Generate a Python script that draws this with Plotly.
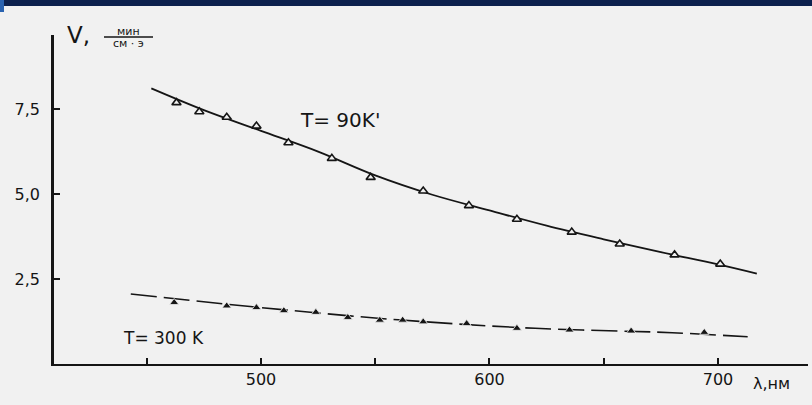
import plotly.graph_objects as go

# ---- data ----
wl_90 = [463, 473, 485, 498, 512, 531, 548, 571, 591, 612, 636, 657, 681, 701]
v_90 = [7.69, 7.42, 7.26, 7.00, 6.51, 6.05, 5.49, 5.09, 4.66, 4.26, 3.88, 3.53, 3.21, 2.94]
fit_wl_90 = [452, 475, 500, 525, 550, 575, 600, 625, 650, 675, 700, 717]
fit_v_90 = [8.11, 7.47, 6.86, 6.25, 5.55, 4.98, 4.52, 4.07, 3.67, 3.29, 2.93, 2.66]

wl_300 = [462, 485, 498, 510, 524, 538, 552, 562, 571, 590, 612, 635, 662, 694]
v_300 = [1.81, 1.71, 1.66, 1.57, 1.52, 1.37, 1.29, 1.29, 1.24, 1.19, 1.05, 1.00, 0.97, 0.93]
fit_wl_300 = [443, 500, 560, 620, 680, 713]
fit_v_300 = [2.06, 1.66, 1.30, 1.05, 0.92, 0.80]

x_tickvals = [450, 500, 550, 600, 650, 700]
x_ticktext = ["", "500", "", "600", "", "700"]
y_tickvals = [2.5, 5.0, 7.5]
y_ticktext = ["2,5", "5,0", "7,5"]

BG = "#f1f1f1"
INK = "#151515"
FONT = "DejaVu Sans"

W, H = 812, 405
L, R, T, B = 54, 4, 35, 41
pw, ph = W - L - R, H - T - B


def px(xp):
    return (xp - L) / pw


def py(yp):
    return 1 - (yp - T) / ph


fig = go.Figure()
fig.add_trace(go.Scatter(x=fit_wl_90, y=fit_v_90, mode="lines",
                         line=dict(color=INK, width=1.8, shape="spline"),
                         hoverinfo="skip", showlegend=False))
fig.add_trace(go.Scatter(x=wl_90, y=v_90, mode="markers",
                         marker=dict(symbol="triangle-up", size=8, color=BG,
                                     line=dict(color=INK, width=1.6)),
                         showlegend=False))
fig.add_trace(go.Scatter(x=fit_wl_300, y=fit_v_300, mode="lines",
                         line=dict(color=INK, width=1.6, shape="spline", dash="26px,7px"),
                         hoverinfo="skip", showlegend=False))
fig.add_trace(go.Scatter(x=wl_300, y=v_300, mode="markers",
                         marker=dict(symbol="triangle-up", size=8, color=INK,
                                     line=dict(color=BG, width=0.8)),
                         showlegend=False))

for txt, xx, yy, sz in [("T= 90K'", 340, 120, 20), ("T= 300 K", 163, 338, 17),
                        ("V,", 78, 35, 23), ("мин", 128, 31, 11), ("см · э", 128, 43, 11),
                        ("λ,нм", 771, 384, 16)]:
    fig.add_annotation(x=px(xx), y=py(yy), xref="paper", yref="paper", text=txt,
                       xanchor="center", yanchor="middle",
                       showarrow=False, font=dict(family=FONT, color=INK, size=sz))

fig.add_shape(type="line", xref="paper", yref="paper", x0=px(104), x1=px(153),
              y0=py(37), y1=py(37), line=dict(color=INK, width=1.5))
# slide header bar
fig.add_shape(type="rect", xref="paper", yref="paper", x0=px(0), x1=px(W),
              y0=py(0), y1=py(6), fillcolor="#0c214e", line=dict(width=0), layer="above")
fig.add_shape(type="rect", xref="paper", yref="paper", x0=px(0), x1=px(4),
              y0=py(0), y1=py(12), fillcolor="#2a63b0", line=dict(width=0), layer="above")

fig.update_layout(
    width=W, height=H,
    margin=dict(l=L, r=R, t=T, b=B),
    paper_bgcolor=BG, plot_bgcolor=BG,
    font=dict(family=FONT, color=INK, size=14),
    xaxis=dict(range=[409.4, 739.4], showgrid=False, zeroline=False,
               showline=True, linecolor=INK, linewidth=2.2,
               ticks="inside", ticklen=6, tickwidth=1.5, tickcolor=INK,
               tickvals=x_tickvals, ticktext=x_ticktext,
               tickfont=dict(family=FONT, size=16, color=INK)),
    yaxis=dict(range=[0, 9.68], showgrid=False, zeroline=False,
               showline=True, linecolor=INK, linewidth=2.6,
               ticks="inside", ticklen=6, tickwidth=1.5, tickcolor=INK,
               tickvals=y_tickvals, ticktext=y_ticktext, ticklabelstandoff=8,
               tickfont=dict(family=FONT, size=16, color=INK)),
)

fig.write_html("out.html", config={"displayModeBar": False},
               post_script="document.body.style.margin='0';document.body.style.overflow='hidden';")
